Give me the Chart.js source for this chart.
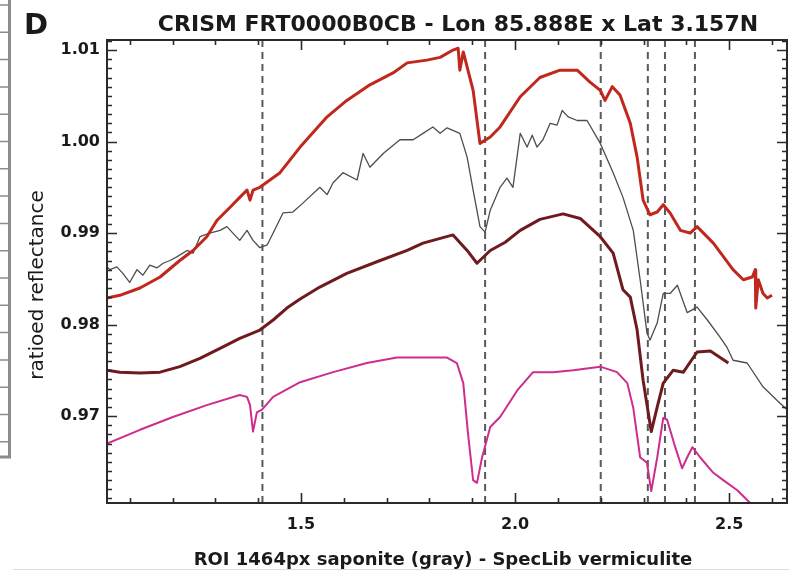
<!DOCTYPE html>
<html>
<head>
<meta charset="utf-8">
<script src="https://cdn.jsdelivr.net/npm/chart.js@4.4.1/dist/chart.umd.min.js"></script>
<style>
  html, body { margin: 0; padding: 0; background: #fff; }
</style>
</head>
<body>
<canvas id="spectra" width="789" height="571"></canvas>
<script>
// wavelength (um) / ratioed reflectance, one pair of arrays per spectrum
const redWl = [1.047,1.077,1.124,1.171,1.217,1.248,1.280,1.304,1.334,1.357,1.374,1.381,1.388,1.404,1.451,1.498,1.561,1.607,1.661,1.715,1.748,1.794,1.825,1.855,1.867,1.871,1.879,1.902,1.918,1.942,1.965,2.012,2.058,2.105,2.145,2.175,2.199,2.210,2.227,2.245,2.269,2.285,2.299,2.315,2.332,2.346,2.362,2.386,2.409,2.425,2.463,2.509,2.533,2.554,2.561,2.562,2.568,2.579,2.589,2.600];
const redVal = [0.9829,0.9832,0.9840,0.9852,0.9870,0.9881,0.9896,0.9914,0.9928,0.9939,0.9947,0.9936,0.9947,0.9950,0.9966,0.9994,1.0027,1.0045,1.0062,1.0075,1.0086,1.0089,1.0092,1.0100,1.0102,1.0078,1.0098,1.0056,0.9998,1.0005,1.0016,1.0049,1.0070,1.0078,1.0078,1.0065,1.0056,1.0045,1.0060,1.0051,1.0020,0.9983,0.9936,0.9920,0.9923,0.9931,0.9922,0.9903,0.9900,0.9907,0.9889,0.9860,0.9849,0.9852,0.9860,0.9818,0.9849,0.9834,0.9829,0.9832];

const grayWl = [1.047,1.054,1.070,1.084,1.100,1.117,1.131,1.147,1.164,1.178,1.194,1.210,1.234,1.248,1.264,1.287,1.311,1.327,1.341,1.357,1.374,1.388,1.404,1.421,1.435,1.458,1.481,1.505,1.544,1.561,1.575,1.598,1.631,1.645,1.661,1.692,1.731,1.762,1.785,1.808,1.825,1.841,1.871,1.888,1.902,1.918,1.930,1.942,1.965,1.981,1.995,2.012,2.028,2.040,2.051,2.065,2.082,2.098,2.110,2.124,2.145,2.168,2.199,2.229,2.252,2.276,2.292,2.308,2.315,2.332,2.346,2.362,2.379,2.402,2.425,2.449,2.479,2.495,2.509,2.542,2.579,2.612,2.635];
const grayVal = [0.9863,0.9860,0.9863,0.9856,0.9846,0.9860,0.9854,0.9865,0.9862,0.9867,0.9870,0.9874,0.9881,0.9878,0.9896,0.9900,0.9903,0.9907,0.9900,0.9892,0.9903,0.9892,0.9884,0.9887,0.9900,0.9922,0.9923,0.9933,0.9950,0.9942,0.9955,0.9966,0.9958,0.9987,0.9972,0.9987,1.0002,1.0002,1.0009,1.0016,1.0009,1.0015,1.0009,0.9983,0.9947,0.9907,0.9901,0.9925,0.9950,0.9960,0.9950,1.0009,0.9994,1.0007,0.9994,1.0002,1.0020,1.0018,1.0034,1.0027,1.0023,1.0023,0.9998,0.9966,0.9939,0.9903,0.9849,0.9791,0.9783,0.9802,0.9834,0.9834,0.9843,0.9813,0.9819,0.9805,0.9786,0.9775,0.9761,0.9758,0.9732,0.9717,0.9707];

const maroonWl = [1.047,1.077,1.124,1.171,1.217,1.264,1.311,1.357,1.404,1.435,1.467,1.498,1.544,1.607,1.685,1.748,1.785,1.855,1.888,1.911,1.942,1.977,2.012,2.058,2.112,2.152,2.199,2.229,2.252,2.269,2.285,2.299,2.318,2.332,2.346,2.369,2.393,2.425,2.456,2.498];
const maroonVal = [0.9750,0.9748,0.9747,0.9748,0.9754,0.9763,0.9774,0.9785,0.9794,0.9805,0.9818,0.9828,0.9841,0.9856,0.9870,0.9881,0.9889,0.9898,0.9881,0.9867,0.9881,0.9890,0.9903,0.9915,0.9921,0.9916,0.9896,0.9878,0.9838,0.9830,0.9794,0.9739,0.9683,0.9710,0.9736,0.9750,0.9748,0.9770,0.9771,0.9758];

const pinkWl = [1.047,1.124,1.201,1.280,1.357,1.374,1.381,1.388,1.397,1.409,1.435,1.498,1.575,1.654,1.724,1.801,1.841,1.864,1.879,1.890,1.902,1.911,1.923,1.942,1.965,2.005,2.042,2.089,2.136,2.199,2.238,2.262,2.276,2.292,2.308,2.318,2.332,2.346,2.355,2.374,2.390,2.402,2.414,2.432,2.463,2.486,2.519,2.549];
const pinkVal = [0.9670,0.9685,0.9699,0.9712,0.9723,0.9721,0.9712,0.9683,0.9704,0.9707,0.9721,0.9737,0.9748,0.9758,0.9764,0.9764,0.9764,0.9758,0.9736,0.9681,0.9630,0.9627,0.9655,0.9688,0.9699,0.9728,0.9748,0.9748,0.9750,0.9754,0.9748,0.9736,0.9709,0.9655,0.9649,0.9618,0.9655,0.9698,0.9696,0.9666,0.9643,0.9655,0.9666,0.9655,0.9638,0.9630,0.9619,0.9605];

// absorption band positions marked with dashed lines
const bandCenters = [1.41, 1.93, 2.20, 2.31, 2.35, 2.42];

const xTicks = [1.5, 2.0, 2.5];
const yTicks = [0.97, 0.98, 0.99, 1.00, 1.01];
const xRange = [1.047, 2.635];
const yRange = [0.9605, 1.0111];

const titleText = 'CRISM FRT0000B0CB - Lon 85.888E x Lat 3.157N';
const xTitle = 'ROI 1464px saponite (gray) - SpecLib vermiculite';
const yTitle = 'ratioed reflectance';
const panelLetter = 'D';

const pts = (xs, ys) => xs.map((x, i) => ({ x: x, y: ys[i] }));

function spectrum(xs, ys, color, width) {
  return {
    data: pts(xs, ys),
    borderColor: color,
    borderWidth: width,
    pointRadius: 0,
    tension: 0,
    borderJoinStyle: 'round',
    fill: false
  };
}

const bandLines = bandCenters.map(c => ({
  data: [{ x: c, y: yRange[0] }, { x: c, y: yRange[1] }],
  borderColor: '#5a5a5a',
  borderWidth: 2,
  borderDash: [7, 5],
  pointRadius: 0,
  fill: false
}));

// frame with inward ticks on all four sides, plus the text around the plot
const axisFrame = {
  id: 'axisFrame',
  afterDraw(chart) {
    const { ctx, chartArea: a, scales: { x, y } } = chart;
    ctx.save();
    ctx.strokeStyle = '#2a2a2a';
    ctx.lineWidth = 2;
    ctx.strokeRect(a.left, a.top, a.right - a.left, a.bottom - a.top);

    ctx.lineWidth = 1.6;
    ctx.beginPath();
    for (let k = 11; k <= 26; k++) {
      const px = Math.round(x.getPixelForValue(k / 10)) + 0.5;
      const len = k % 5 === 0 ? 10 : 5;
      ctx.moveTo(px, a.bottom); ctx.lineTo(px, a.bottom - len);
      ctx.moveTo(px, a.top); ctx.lineTo(px, a.top + len);
    }
    for (let k = 961; k <= 1011; k++) {
      const py = Math.round(y.getPixelForValue(k / 1000)) + 0.5;
      const len = k % 10 === 0 ? 10 : 5;
      ctx.moveTo(a.left, py); ctx.lineTo(a.left + len, py);
      ctx.moveTo(a.right, py); ctx.lineTo(a.right - len, py);
    }
    ctx.stroke();

    // edge of the neighbouring panel
    ctx.strokeStyle = '#8c8c8c';
    ctx.lineWidth = 3;
    ctx.beginPath();
    ctx.moveTo(9.5, 0); ctx.lineTo(9.5, 457); ctx.lineTo(0, 457);
    ctx.stroke();
    ctx.lineWidth = 1.5;
    ctx.beginPath();
    for (let py = 5; py < 457; py += 27.3) {
      ctx.moveTo(0, py); ctx.lineTo(8, py);
    }
    ctx.stroke();
    ctx.strokeStyle = '#dcdcdc';
    ctx.lineWidth = 1;
    ctx.beginPath();
    ctx.moveTo(13, 569.5); ctx.lineTo(789, 569.5);
    ctx.stroke();

    ctx.fillStyle = '#1a1a1a';
    ctx.textAlign = 'left';
    ctx.textBaseline = 'alphabetic';
    ctx.font = 'bold 29px "DejaVu Sans"';
    ctx.fillText(panelLetter, 24, 34);

    ctx.textAlign = 'center';
    ctx.font = 'bold 22px "DejaVu Sans"';
    ctx.fillText(titleText, 458, 31);

    ctx.font = 'bold 18px "DejaVu Sans"';
    ctx.fillText(xTitle, 443, 565);

    ctx.save();
    ctx.translate(43, 285);
    ctx.rotate(-Math.PI / 2);
    ctx.font = '20px "DejaVu Sans"';
    ctx.fillText(yTitle, 0, 0);
    ctx.restore();

    ctx.restore();
  }
};

const tickFont = { family: '"DejaVu Sans"', size: 16, weight: 'bold' };

new Chart(document.getElementById('spectra'), {
  type: 'line',
  data: {
    datasets: [
      spectrum(redWl, redVal, '#c0271d', 3),
      spectrum(grayWl, grayVal, '#4d4d4d', 1.3),
      spectrum(maroonWl, maroonVal, '#6e1a1e', 3),
      spectrum(pinkWl, pinkVal, '#cc2d8e', 2)
    ].concat(bandLines)
  },
  options: {
    responsive: false,
    animation: false,
    layout: { padding: { top: 40, right: 2, left: 0, bottom: 0 } },
    plugins: { legend: { display: false }, tooltip: { enabled: false }, title: { display: false } },
    scales: {
      x: {
        type: 'linear',
        min: xRange[0],
        max: xRange[1],
        afterBuildTicks: s => { s.ticks = xTicks.map(v => ({ value: v })); },
        afterFit: s => { s.height = 68; },
        grid: { display: false, drawTicks: false },
        border: { display: false },
        ticks: { font: tickFont, color: '#1a1a1a', padding: 12, maxRotation: 0, callback: v => v.toFixed(1) }
      },
      y: {
        type: 'linear',
        min: yRange[0],
        max: yRange[1],
        afterBuildTicks: s => { s.ticks = yTicks.map(v => ({ value: v })); },
        afterFit: s => { s.width = 107; },
        grid: { display: false, drawTicks: false },
        border: { display: false },
        ticks: { font: tickFont, color: '#1a1a1a', padding: 7, callback: v => v.toFixed(2) }
      }
    }
  },
  plugins: [axisFrame]
});
</script>
</body>
</html>
